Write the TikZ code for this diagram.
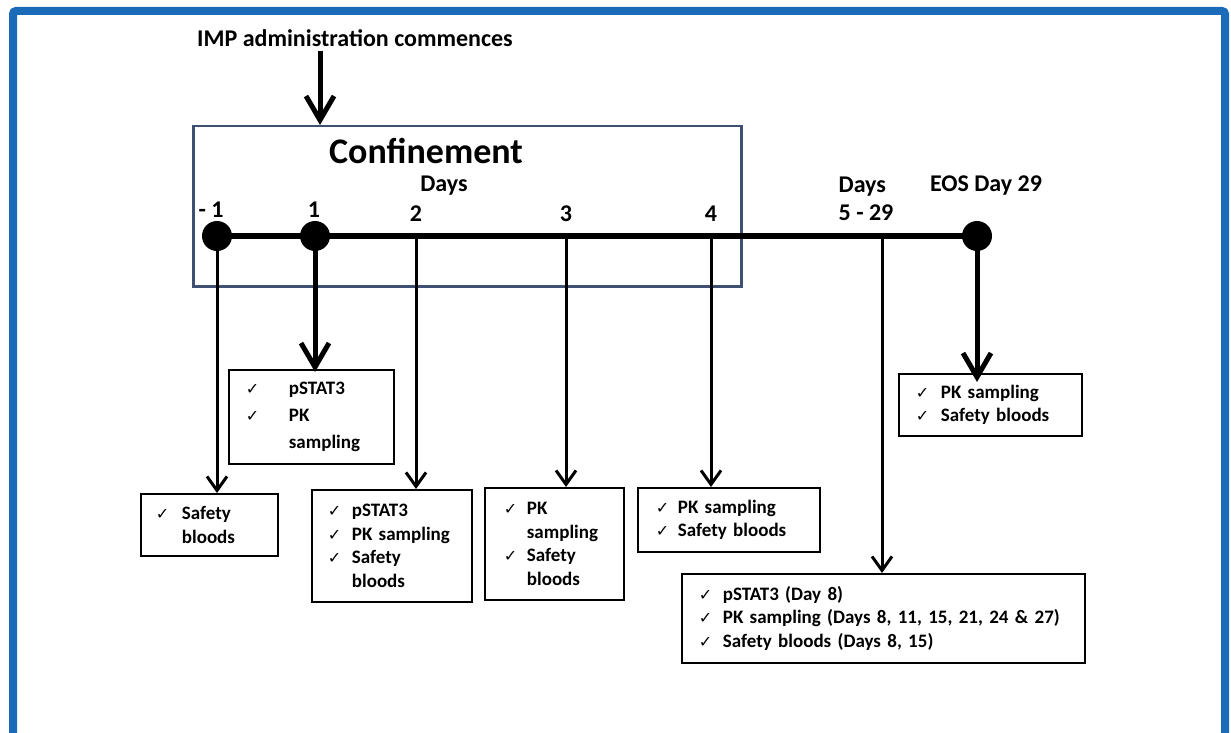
\documentclass[tikz,border=0pt]{standalone}
\usepackage{fontspec}
\setmainfont{Carlito}
\newfontfamily\checkfont{DejaVu Sans}
\usetikzlibrary{arrows.meta}
\definecolor{frameblue}{HTML}{1B6CB8}
\definecolor{confblue}{HTML}{3E5173}
\newcommand\ck[1][24pt]{\leavevmode\llap{\makebox[#1][l]{\checkfont\fontsize{16}{16}\selectfont ✓}}}
\begin{document}
\begin{tikzpicture}[x=1pt,y=-1pt,
  lbl/.style={font=\bfseries\fontsize{24}{28}\selectfont, inner sep=0pt},
  listbox/.style n args={3}{draw, line width=1.8pt, anchor=north west, inner xsep=0pt, inner ysep=0pt,
     align=left, text width=#1, minimum height=#2,
     font=\bfseries\fontsize{19}{23.5}\selectfont,
     execute at begin node={\leftskip=#3\relax}},
  thinarrow/.style={line width=3pt, -{Straight Barb[length=14pt,width=20pt,line width=3pt]}},
  thickarrow/.style={line width=5pt, -{Straight Barb[length=24pt,width=28pt,line width=5pt]}},
  dot/.style={circle, fill=black, minimum size=30pt, inner sep=0pt}]
\useasboundingbox[fill=white] (0,0) rectangle (1231,733);
\draw[frameblue, line width=8pt, rounded corners=3pt] (13,11) rectangle (1225,760);

% confinement box
\node[draw=confblue, line width=2.5pt, minimum width=548pt, minimum height=160pt, inner sep=0pt, anchor=north west] (confbox) at (192,125) {};

% labels
\node[lbl] (imp) at (355,38) {IMP administration commences};
\node[font=\bfseries\fontsize{36}{40}\selectfont, inner sep=0pt] (conf) at (426,151) {Confinement};
\node[lbl] (days1) at (444,186) {Days};
\node[lbl] (lm1) at (211,210) {- 1};
\node[lbl] (l1) at (314,210) {1};
\node[lbl] (l2) at (416,214) {2};
\node[lbl] (l3) at (566,214) {3};
\node[lbl] (l4) at (711,214) {4};
\node[lbl, align=left] (l5) at (866,199) {Days\\5 - 29};
\node[lbl] (leos) at (986,186) {EOS Day 29};

% timeline
\coordinate (t2) at (416,236);
\coordinate (t3) at (566,236);
\coordinate (t4) at (711,236);
\coordinate (t5) at (882,236);
\node[dot] (dm1) at (217,236) {};
\node[dot] (d1) at (315,236) {};
\node[dot] (deos) at (977,236) {};
\draw[line width=6.5pt] (dm1.center) -- (deos.center);

% boxes
\node[listbox={137pt}{62pt}{41pt}] (ba) at (140,493) {\ck[26pt]Safety\\bloods};
\node[listbox={165pt}{94pt}{60pt}, font=\bfseries\fontsize{19}{27}\selectfont] (bb) at (228,369) {\ck[43pt]pSTAT3\\\ck[43pt]PK\\sampling};
\node[listbox={160pt}{112pt}{40pt}] (bc) at (311,489) {\ck pSTAT3\\\ck PK sampling\\\ck Safety\\bloods};
\node[listbox={139pt}{112pt}{42pt}] (bd) at (484,487) {\ck[23pt]PK\\sampling\\\ck[23pt]Safety\\bloods};
\node[listbox={182pt}{64pt}{40pt}] (be) at (637,487) {\ck[22pt]PK sampling\\\ck[22pt]Safety bloods};
\node[listbox={403pt}{89pt}{41pt}] (bf) at (681,573) {\ck pSTAT3 (Day 8)\\\ck PK sampling (Days 8, 11, 15, 21, 24 \& 27)\\\ck Safety bloods (Days 8, 15)};
\node[listbox={183pt}{62pt}{42pt}] (bg) at (898,373) {\ck[25pt]PK sampling\\\ck[25pt]Safety bloods};

% arrows
\coordinate (impx) at (320,0);
\draw[thickarrow] ([yshift=-4pt]imp.south -| impx) -- (impx |- confbox.north);
\draw[thickarrow] (d1.center) -- ([yshift=-3pt]d1 |- bb.north);
\draw[thickarrow] (deos.center) -- ([yshift=-9pt]deos |- bg.north);
\draw[thinarrow] (dm1.center) -- (dm1 |- ba.north);
\draw[thinarrow] (t2) -- (t2 |- bc.north);
\draw[thinarrow] (t3) -- (t3 |- bd.north);
\draw[thinarrow] (t4) -- (t4 |- be.north);
\draw[thinarrow] (t5) -- (t5 |- bf.north);
\end{tikzpicture}
\end{document}
